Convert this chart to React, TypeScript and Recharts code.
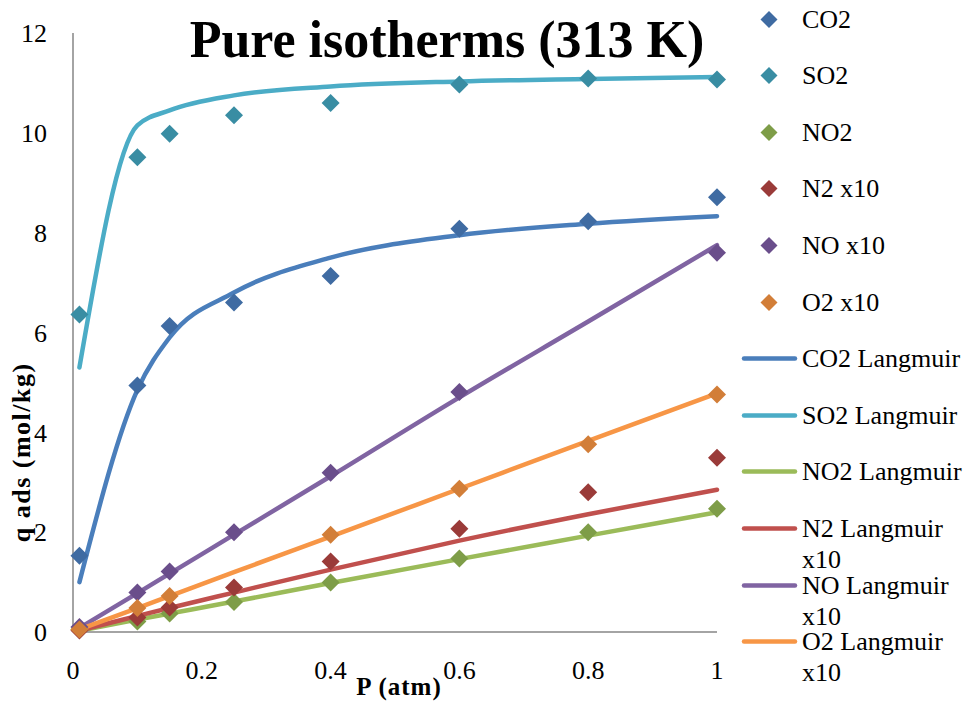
import React from "react";
import { ComposedChart, Line, Scatter, XAxis, YAxis, Label } from "recharts";

// pressure points shared by every series (atm)
const pressure = [0.01, 0.1, 0.15, 0.25, 0.4, 0.6, 0.8, 1];

// measured uptake, mol/kg (N2, NO and O2 scaled x10)
const co2Measured = [1.53, 4.94, 6.13, 6.6, 7.13, 8.08, 8.23, 8.71];
const so2Measured = [6.36, 9.51, 9.98, 10.35, 10.6, 10.97, 11.09, 11.07];
const no2Measured = [0.05, 0.21, 0.37, 0.6, 0.99, 1.47, 2.0, 2.47];
const n2Measured = [0.03, 0.29, 0.49, 0.89, 1.41, 2.07, 2.8, 3.49];
const noMeasured = [0.1, 0.79, 1.21, 2.0, 3.19, 4.81, null, 7.6];
const o2Measured = [0.05, 0.48, 0.72, null, 1.95, 2.87, 3.76, 4.76];

// Langmuir fits at the same pressures
const co2Langmuir = [1.0, 4.85, 5.9, 6.8, 7.5, 7.95, 8.18, 8.33];
const so2Langmuir = [5.3, 10.15, 10.45, 10.75, 10.93, 11.03, 11.08, 11.12];
const no2Langmuir = [0.025, 0.25, 0.37, 0.61, 0.98, 1.46, 1.93, 2.4];
const n2Langmuir = [0.03, 0.32, 0.48, 0.79, 1.25, 1.83, 2.36, 2.85];
const noLangmuir = [0.08, 0.78, 1.17, 1.95, 3.12, 4.7, 6.22, 7.75];
const o2Langmuir = [0.05, 0.48, 0.72, 1.2, 1.91, 2.87, 3.83, 4.78];

const xTicks = [0, 0.2, 0.4, 0.6, 0.8, 1];
const yTicks = [0, 2, 4, 6, 8, 10, 12];

const measuredSeries = [
  { name: "CO2", values: co2Measured, color: "#3F6BA2" },
  { name: "SO2", values: so2Measured, color: "#398DA3" },
  { name: "NO2", values: no2Measured, color: "#7E9D48" },
  { name: "N2 x10", values: n2Measured, color: "#9A3B39" },
  { name: "NO x10", values: noMeasured, color: "#6A4E8B" },
  { name: "O2 x10", values: o2Measured, color: "#D27E38" },
];

const fitSeries = [
  { name: "CO2 Langmuir", values: co2Langmuir, color: "#4A7EBB" },
  { name: "SO2 Langmuir", values: so2Langmuir, color: "#4BACC6" },
  { name: "NO2 Langmuir", values: no2Langmuir, color: "#9BBB59" },
  { name: "N2 Langmuir x10", values: n2Langmuir, color: "#C0504D" },
  { name: "NO Langmuir x10", values: noLangmuir, color: "#8064A2" },
  { name: "O2 Langmuir x10", values: o2Langmuir, color: "#F79646" },
];

const toPoints = (values: (number | null)[]) =>
  pressure
    .map((p, i) => ({ p, q: values[i] }))
    .filter((d) => d.q !== null);

const FONT = "'Liberation Serif', 'Times New Roman', serif";

const Diamond = (props: any) => {
  const { cx, cy, fill } = props;
  const r = 9;
  return (
    <polygon
      points={`${cx},${cy - r} ${cx + r},${cy} ${cx},${cy + r} ${cx - r},${cy}`}
      fill={fill}
    />
  );
};

const YTitle = (props: any) => {
  const { viewBox } = props;
  const x = 30;
  const y = viewBox.y + viewBox.height * 0.7;
  return (
    <text
      x={x}
      y={y}
      transform={`rotate(-90, ${x}, ${y})`}
      textAnchor="middle"
      fontFamily={FONT}
      fontWeight="bold"
      fontSize={26}
      letterSpacing={1.5}
      fill="#000"
    >
      q ads (mol/kg)
    </text>
  );
};

const XTitle = (props: any) => {
  const { viewBox } = props;
  const x = viewBox.x + viewBox.width / 2 + 4;
  return (
    <text
      x={x}
      y={695}
      textAnchor="middle"
      fontFamily={FONT}
      fontWeight="bold"
      fontSize={25}
      letterSpacing={1}
      fill="#000"
    >
      P (atm)
    </text>
  );
};

const LegendBox = () => {
  const rows = [
    ...measuredSeries.map((s) => ({ ...s, kind: "marker" })),
    ...fitSeries.map((s) => ({ ...s, kind: "line" })),
  ];
  return (
    <div style={{ position: "absolute", left: 0, top: 0 }}>
      {rows.map((r, i) => {
        const center = 19 + i * 56.6;
        return (
          <div
            key={r.name}
            style={{
              position: "absolute",
              left: 740,
              top: center - 15.5,
              display: "flex",
              alignItems: "flex-start",
            }}
          >
            <svg width={60} height={31} style={{ flex: "none" }}>
              {r.kind === "marker" ? (
                <polygon points="29,7 37.5,15.5 29,24 20.5,15.5" fill={r.color} />
              ) : (
                <line
                  x1={4}
                  y1={15.5}
                  x2={55}
                  y2={15.5}
                  stroke={r.color}
                  strokeWidth={4.5}
                  strokeLinecap="round"
                />
              )}
            </svg>
            <div
              style={{
                width: 172,
                fontFamily: FONT,
                fontSize: 26,
                lineHeight: "31px",
                color: "#000",
                marginLeft: 2,
              }}
            >
              {r.name}
            </div>
          </div>
        );
      })}
    </div>
  );
};

export default function App() {
  return (
    <div
      style={{
        position: "absolute",
        left: 0,
        top: 0,
        width: 978,
        height: 708,
        background: "#fff",
        overflow: "hidden",
      }}
    >
      <div
        style={{
          position: "absolute",
          left: 0,
          top: 14,
          width: 894,
          textAlign: "center",
          fontFamily: FONT,
          fontWeight: "bold",
          fontSize: 52,
          lineHeight: "52px",
          color: "#000",
        }}
      >
        Pure isotherms (313 K)
      </div>
      <ComposedChart
        width={978}
        height={708}
        margin={{ top: 33, right: 261, bottom: 36, left: 23 }}
      >
        <XAxis
          type="number"
          dataKey="p"
          domain={[0, 1]}
          ticks={xTicks}
          height={40}
          tickLine={false}
          tickSize={0}
          tickMargin={29}
          axisLine={{ stroke: "#868686", strokeWidth: 1.5 }}
          tick={{ fill: "#000", fontSize: 26, fontFamily: FONT }}
        >
          <Label content={<XTitle />} />
        </XAxis>
        <YAxis
          type="number"
          dataKey="q"
          domain={[0, 12]}
          ticks={yTicks}
          width={50}
          tickLine={false}
          tickSize={0}
          tickMargin={26}
          axisLine={{ stroke: "#868686", strokeWidth: 1.5 }}
          tick={{ fill: "#000", fontSize: 26, fontFamily: FONT }}
        >
          <Label content={<YTitle />} />
        </YAxis>
        {measuredSeries.map((s) => (
          <Scatter
            key={s.name}
            name={s.name}
            data={toPoints(s.values)}
            dataKey="q"
            fill={s.color}
            shape={<Diamond />}
            isAnimationActive={false}
          />
        ))}
        {fitSeries.map((s) => (
          <Line
            key={s.name}
            name={s.name}
            data={toPoints(s.values)}
            dataKey="q"
            type="monotone"
            stroke={s.color}
            strokeWidth={4.5}
            strokeLinecap="round"
            dot={false}
            activeDot={false}
            isAnimationActive={false}
          />
        ))}
      </ComposedChart>
      <LegendBox />
    </div>
  );
}
